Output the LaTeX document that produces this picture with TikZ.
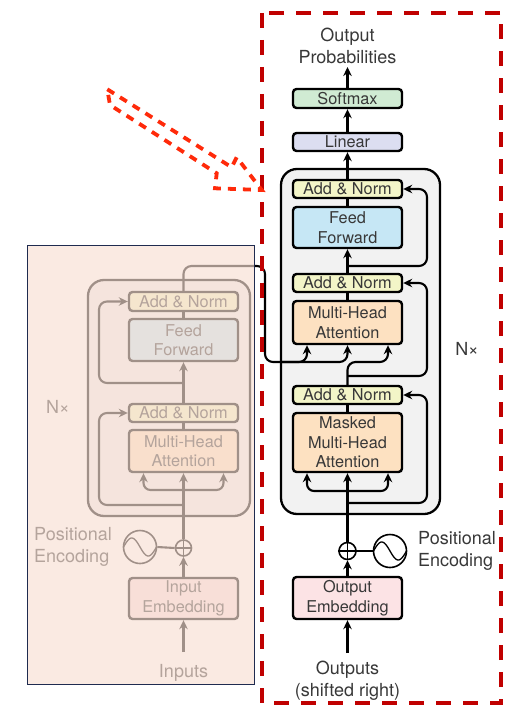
\documentclass[tikz,border=0pt]{standalone}
\usepackage{fontspec}
\setmainfont{TeX Gyre Heros}
\usetikzlibrary{arrows.meta}
\definecolor{txt}{HTML}{383838}
\definecolor{anfill}{HTML}{F3F5C8}
\definecolor{fffill}{HTML}{C6E7F5}
\definecolor{mhafill}{HTML}{FDE1C1}
\definecolor{embfill}{HTML}{FCE3E5}
\definecolor{linfill}{HTML}{DCDEF1}
\definecolor{softfill}{HTML}{D0EBD3}
\definecolor{nxfill}{HTML}{F2F2F2}
\definecolor{panelfill}{HTML}{F7DED2}
\definecolor{panelline}{HTML}{1F2B4F}
\definecolor{framered}{HTML}{C00000}
\definecolor{redarrow}{HTML}{FF2A0A}
\begin{document}
\begin{tikzpicture}[x=1pt,y=-1pt,
  box/.style={draw=black, line width=2.4pt, rounded corners=3.5pt, minimum width=109pt,
    inner sep=0pt, align=center, text=txt, font=\fontsize{16.3}{19.5}\selectfont},
  nxbox/.style={draw=black, fill=nxfill, line width=2.3pt, rounded corners=16pt, inner sep=0pt},
  arr/.style={line width=2.1pt, -{Stealth[length=9pt,width=8.5pt]}},
  ln/.style={line width=2.1pt},
  lbl/.style={text=txt, font=\fontsize{18}{22}\selectfont, align=center, inner sep=0pt},
  pluscirc/.style={circle, draw=black, line width=1.6pt, inner sep=0pt},
]
\useasboundingbox (0,0) rectangle (514,706);

% ================= ENCODER (drawn, then faded) =================
\node[nxbox, minimum width=162pt, minimum height=236pt] (enx) at (169,398) {};
\node[box, fill=anfill, minimum height=19pt] (ean2) at (183.5,301.5) {Add \& Norm};
\node[box, fill=fffill, minimum height=42pt] (eff) at (183.5,340) {Feed\\Forward};
\node[box, fill=anfill, minimum height=18pt] (ean1) at (183.5,413) {Add \& Norm};
\node[box, fill=mhafill, minimum height=42pt] (emha) at (183.5,451) {Multi-Head\\Attention};
\node[box, fill=embfill, minimum height=41pt] (eemb) at (183.5,598.5) {Input\\Embedding};
\node[pluscirc, minimum size=16pt] (eplus) at (183.5,548) {};
\draw[line width=1.3pt] (eplus.north) -- (eplus.south) (eplus.west) -- (eplus.east);
\node[pluscirc, minimum size=33pt] (esine) at (140,547) {};
\draw[line width=1.3pt, shift={(esine.center)}] plot[domain=-16.5:16.5, samples=50] (\x, {9*sin(\x*180/16.5)});
\node[lbl, align=left, anchor=east] (epe) at (112,547) {Positional\\Encoding};
\node[lbl, anchor=base] (ein) at (183.5,677) {Inputs};
\node[lbl] (enxl) at (58,407) {N×};
\coordinate (einbot) at (183.5,652);

\draw[arr] (einbot) -- (eemb.south);
\draw[arr] (eemb.north) -- (eplus.south);
\draw[ln] (eplus.west) -- (esine.east);
\draw[arr] (eplus.north) -- (emha.south);
\draw[arr, rounded corners=7pt] (183.5,490) -| ([xshift=-40pt]emha.south);
\draw[arr, rounded corners=7pt] (183.5,490) -| ([xshift=40pt]emha.south);
\draw[arr, rounded corners=8pt] (183.5,505) -- (99,505) -- (99,413) -- (ean1.west);
\draw[ln] (emha.north) -- (ean1.south);
\draw[arr] (ean1.north) -- (eff.south);
\draw[arr, rounded corners=8pt] (183.5,383) -- (99,383) -- (99,301.5) -- (ean2.west);
\draw[ln] (eff.north) -- (ean2.south);

% ================= DECODER =================
\node[nxbox, minimum width=159pt, minimum height=345pt] (dnx) at (360.5,341.5) {};
\node[box, fill=softfill, minimum height=19pt] (soft) at (347.5,98.5) {Softmax};
\node[box, fill=linfill, minimum height=18pt] (lin) at (347.5,142) {Linear};
\node[box, fill=anfill, minimum height=18pt] (dan3) at (347.5,189) {Add \& Norm};
\node[box, fill=fffill, minimum height=41pt] (dff) at (347.5,227.5) {Feed\\Forward};
\node[box, fill=anfill, minimum height=18pt] (dan2) at (347.5,283) {Add \& Norm};
\node[box, fill=mhafill, minimum height=43pt] (dmha) at (347.5,322.5) {Multi-Head\\Attention};
\node[box, fill=anfill, minimum height=18pt] (dan1) at (347.5,395) {Add \& Norm};
\node[box, fill=mhafill, minimum height=59pt] (dmmha) at (347.5,442.5) {Masked\\Multi-Head\\Attention};
\node[box, fill=embfill, minimum height=42pt] (demb) at (347.5,598) {Output\\Embedding};
\node[pluscirc, minimum size=17pt] (dplus) at (347.5,551) {};
\draw[line width=1.3pt] (dplus.north) -- (dplus.south) (dplus.west) -- (dplus.east);
\node[pluscirc, minimum size=33pt] (dsine) at (390,551) {};
\draw[line width=1.3pt, shift={(dsine.center)}] plot[domain=-16.5:16.5, samples=50] (\x, {9*sin(\x*180/16.5)});
\node[lbl, align=left, anchor=west] (dpe) at (418,551) {Positional\\Encoding};
\node[lbl] (outs) at (347.5,681) {Outputs\\(shifted right)};
\node[lbl] (oprob) at (347.5,46) {Output\\Probabilities};
\node[lbl] (dnxl) at (467,349) {N×};
\coordinate (doutbot) at (347.5,653);
\coordinate (optip) at (347.5,67);

\draw[arr] (doutbot) -- (demb.south);
\draw[arr] (demb.north) -- (dplus.south);
\draw[ln] (dplus.east) -- (dsine.west);
\draw[arr] (dplus.north) -- (dmmha.south);
\draw[arr, rounded corners=7pt] (347.5,491) -| ([xshift=-40.5pt]dmmha.south);
\draw[arr, rounded corners=7pt] (347.5,491) -| ([xshift=40.5pt]dmmha.south);
\draw[arr, rounded corners=8pt] (347.5,503) -- (427,503) -- (427,395) -- (dan1.east);
\draw[ln] (dmmha.north) -- (dan1.south);
\draw[arr, rounded corners=8pt] (dan1.north) -- (347.5,362) -| ([xshift=40.5pt]dmha.south);
\draw[arr, rounded corners=8pt] (347.5,376) -- (427,376) -- (427,283) -- (dan2.east);
\draw[arr, rounded corners=8pt] (ean2.north) -- (183.5,266) -- (265,266) -- (265,362) -| (dmha.south);
\draw[arr, rounded corners=8pt] (280,362) -| ([xshift=-40.5pt]dmha.south);
\draw[ln] (dmha.north) -- (dan2.south);
\draw[arr] (dan2.north) -- (dff.south);
\draw[arr, rounded corners=8pt] (347.5,266) -- (427,266) -- (427,189) -- (dan3.east);
\draw[ln] (dff.north) -- (dan3.south);
\draw[arr] (dan3.north) -- (lin.south);
\draw[arr] (lin.north) -- (soft.south);
\draw[arr] (soft.north) -- (optip);

% ================= FADING PANEL =================
\fill[panelfill, opacity=0.65] (27,245) rectangle (254,684);
\draw[panelline, line width=1pt] (27,245) rectangle (254,684);

% ================= RED FRAME AND ARROW =================
\draw[framered, line width=3.5pt, dash pattern=on 15pt off 12pt] (262,13) rectangle (501,703);
\draw[redarrow, line width=3.8pt, dash pattern=on 8pt off 7pt, line join=miter]
  (107.3,89.3) -- (231.7,167.3) -- (236.7,157.3) -- (261.7,190) -- (215,188.3) -- (216.7,173.3) -- (110,105) -- cycle;
\end{tikzpicture}
\end{document}
